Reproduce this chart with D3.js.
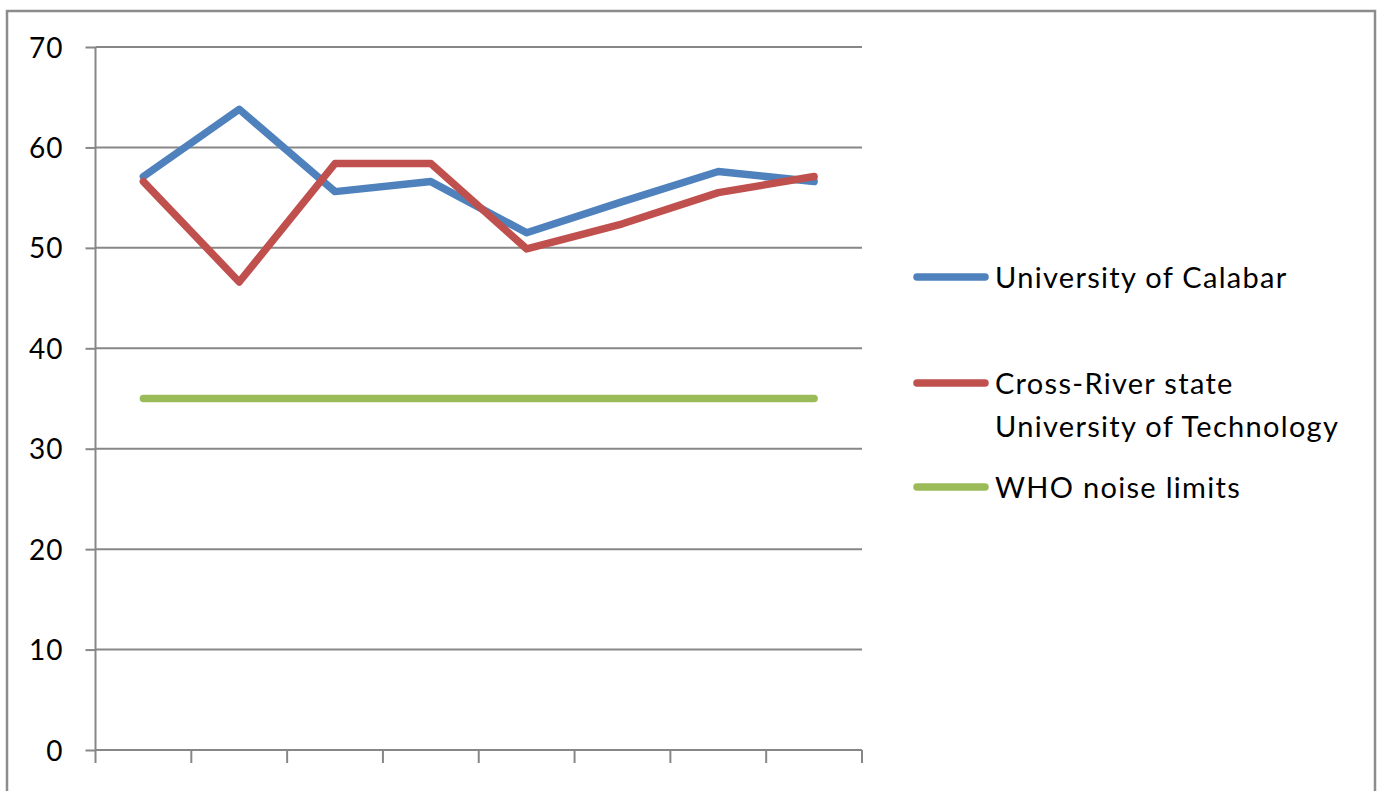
<!DOCTYPE html>
<html><head><meta charset="utf-8">
<script src="https://cdn.jsdelivr.net/npm/d3@7/dist/d3.min.js"></script>
<style>html,body{margin:0;padding:0;background:#fff;}svg{display:block;}</style>
</head><body>
<svg id="chart" width="1381" height="791"></svg>
<script>
const categories = ["1","2","3","4","5","6","7","8"];
const calabar = [57.1, 63.8, 55.6, 56.6, 51.5, 54.6, 57.6, 56.6];
const crutech = [56.6, 46.6, 58.4, 58.4, 49.9, 52.4, 55.5, 57.1];
const who = [35, 35, 35, 35, 35, 35, 35, 35];
const yTicks = [0, 10, 20, 30, 40, 50, 60, 70];
const seriesNames = ["University of Calabar", ["Cross-River state", "University of Technology"], "WHO noise limits"];
const colors = ["#4F81BD", "#C0504D", "#9BBB59"];

const svg = d3.select("#chart");
const font = "Lato, 'Open Sans', sans-serif";
const grey = "#878787";

// outer frame
svg.append("rect").attr("x", 7).attr("y", 11).attr("width", 1368).attr("height", 800)
  .attr("fill", "none").attr("stroke", "#8c8c8c").attr("stroke-width", 2.5);

const x = d3.scaleBand().domain(categories).range([95.5, 862]);
const y = d3.scaleLinear().domain([0, 70]).range([750, 47]);

// gridlines
svg.append("g").selectAll("line").data(yTicks.filter(d => d > 0)).join("line")
  .attr("x1", 95.5).attr("x2", 862).attr("y1", d => y(d)).attr("y2", d => y(d))
  .attr("stroke", grey).attr("stroke-width", 2);

// y axis
const yAxis = svg.append("g").attr("transform", "translate(95.5,0)")
  .call(d3.axisLeft(y).tickValues(yTicks).tickSize(10).tickPadding(22).tickFormat(d3.format("d")));
yAxis.select(".domain").attr("stroke", grey).attr("stroke-width", 2).attr("d", "M0,750V47");
yAxis.selectAll(".tick line").attr("stroke", grey).attr("stroke-width", 2);
yAxis.selectAll(".tick text").attr("font-family", font).attr("font-size", 28).attr("letter-spacing", 1)
  .attr("fill", "#000").attr("dy", "0.36em");

// x axis
const xAxis = svg.append("g").attr("transform", "translate(0,750)")
  .call(d3.axisBottom(x).tickSize(0).tickFormat(""));
xAxis.select(".domain").attr("stroke", grey).attr("stroke-width", 2).attr("d", "M95.5,0H862");
xAxis.selectAll(".tick").remove();
const bounds = categories.map(c => x(c)).concat([x.range()[1]]);
xAxis.selectAll("line.tk").data(bounds).join("line").attr("class", "tk")
  .attr("x1", d => d).attr("x2", d => d).attr("y1", 0).attr("y2", 13)
  .attr("stroke", grey).attr("stroke-width", 2);

const line = d3.line().x((d, i) => x(categories[i]) + x.bandwidth() / 2).y(d => y(d));
[calabar, crutech, who].forEach((s, i) => {
  svg.append("path").datum(s).attr("d", line).attr("fill", "none")
    .attr("stroke", colors[i]).attr("stroke-width", 7.5)
    .attr("stroke-linejoin", "round").attr("stroke-linecap", "round");
});

// legend
const legY = [277, 383, 487];
const leg = svg.append("g");
seriesNames.forEach((name, i) => {
  leg.append("line").attr("x1", 917).attr("x2", 985).attr("y1", legY[i]).attr("y2", legY[i])
    .attr("stroke", colors[i]).attr("stroke-width", 7.5).attr("stroke-linecap", "round");
  const lines = Array.isArray(name) ? name : [name];
  const t = leg.append("text").attr("font-family", font).attr("font-size", 29)
    .attr("letter-spacing", 1.3).attr("fill", "#000");
  lines.forEach((ln, j) => {
    t.append("tspan").attr("x", 995).attr("y", legY[i] + 11 + j * 43).text(ln);
  });
});
</script>
</body></html>
